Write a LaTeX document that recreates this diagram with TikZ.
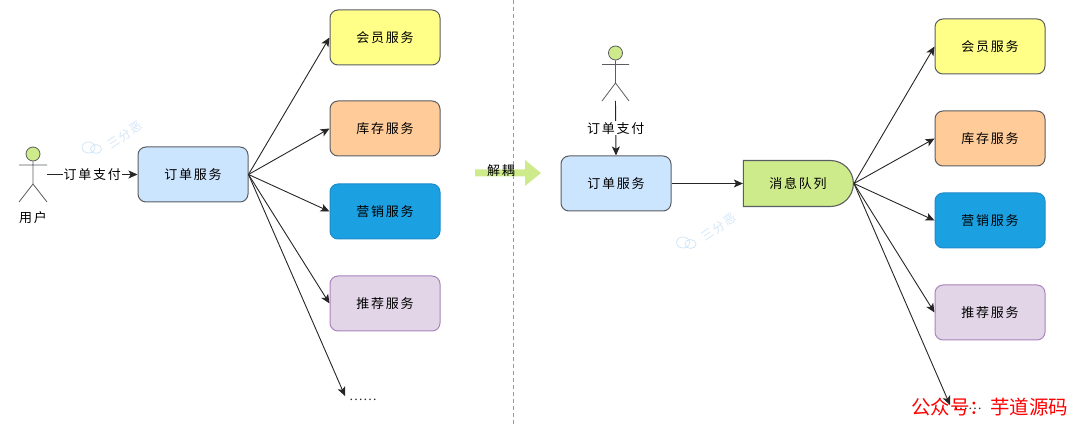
\documentclass[tikz,border=0pt]{standalone}
\usepackage{fontspec}
\setmainfont{Noto Sans CJK SC}
\newfontfamily\cnfont[LetterSpace=13]{Noto Sans CJK SC}
\newfontfamily\dotfont{Liberation Serif}
\usetikzlibrary{arrows.meta,shapes.misc,calc}
\definecolor{strokeD}{HTML}{5A5D61}
\definecolor{arrowG}{HTML}{CDEB8B}
\definecolor{wm}{HTML}{D3E6F7}
\definecolor{cYel}{HTML}{FFFF88}
\definecolor{cOran}{HTML}{FFCC99}
\definecolor{cTeal}{HTML}{1BA1E2}
\definecolor{cTealD}{HTML}{1E8ACB}
\definecolor{cPurp}{HTML}{E1D5E7}
\definecolor{cPurpD}{HTML}{A985BC}
\definecolor{cBlue}{HTML}{CCE5FF}
\tikzset{
  svc/.style={draw=strokeD,line width=1pt,rounded corners=8pt,minimum width=110pt,minimum height=55pt,inner sep=0pt,font=\cnfont\fontsize{13pt}{14pt}\selectfont,text=black},
  yel/.style={svc,fill=cYel},
  oran/.style={svc,fill=cOran},
  tealb/.style={svc,fill=cTeal,draw=cTealD},
  purp/.style={svc,fill=cPurp,draw=cPurpD},
  order/.style={svc,fill=cBlue},
  queue/.style={rounded rectangle,rounded rectangle west arc=none,rounded rectangle arc length=180,draw=strokeD,line width=1.1pt,fill=arrowG,minimum width=110pt,minimum height=46pt,inner sep=0pt,font=\cnfont\fontsize{13pt}{14pt}\selectfont,text=black},
  lbl/.style={fill=white,inner sep=1pt,font=\cnfont\fontsize{13pt}{14pt}\selectfont,text=black},
  plain/.style={inner sep=0pt,font=\cnfont\fontsize{13pt}{14pt}\selectfont,text=black},
  conn/.style={draw=black!85,line width=0.9pt,-{Stealth[length=9pt,width=8pt,inset=2.2pt]}},
  limb/.style={draw=strokeD,line width=0.8pt},
  headc/.style={circle,draw=strokeD,fill=arrowG,line width=0.8pt,minimum size=14pt,inner sep=0pt},
  wmtext/.style={text=wm,font=\cnfont\fontsize{12pt}{12pt}\selectfont,inner sep=0pt},
  wmicon/.style={draw=wm,line width=0.8pt},
  moredots/.style={inner sep=0pt,font=\dotfont\fontsize{14pt}{14pt}\selectfont,text=black!85},
}
\begin{document}
\begin{tikzpicture}[x=1pt,y=-1pt]
\useasboundingbox (0,0) rectangle (1080,427);
% divider
\coordinate (divT) at (513,0);
\coordinate (divB) at (513,427);
\draw[draw=black!40,line width=0.7pt,dash pattern=on 4pt off 3pt] (divT) -- (divB);
% watermarks
\node[wmtext,rotate=35] (wmA) at (125,135) {三分恶};
\draw[wmicon] (88.5,147.5) ellipse (6.5pt and 5.5pt);
\draw[wmicon] (96,149) ellipse (5.5pt and 4.5pt);
\node[wmtext,rotate=35] (wmB) at (719,227) {三分恶};
\draw[wmicon] (683,242.5) ellipse (6.5pt and 5.5pt);
\draw[wmicon] (690.5,244) ellipse (5.5pt and 4.5pt);
% left side
\node[order] (orderL) at (193,174.5) {订单服务};
\node[yel] (vipL) at (385,37.5) {会员服务};
\node[oran] (stockL) at (385,128.5) {库存服务};
\node[tealb] (mktL) at (385,211.5) {营销服务};
\node[purp] (recL) at (385,303.5) {推荐服务};
\node[moredots] (moreL) at (363,400) {……};
\coordinate (moreLtip) at (345,396);
\node[headc] (headL) at (33,154) {};
\coordinate (hipL) at (33,184);
\coordinate (armLa) at (19,165);
\coordinate (armLb) at (47,165);
\coordinate (legLa) at (19,202);
\coordinate (legLb) at (47,202);
\draw[limb] (headL) -- (hipL) (armLa) -- (armLb) (legLa) -- (hipL) -- (legLb);
\node[plain] (userL) at (33,217.5) {用户};
\coordinate (actorL) at (47,174.5);
\draw[conn] (actorL) -- (orderL.west) node[lbl,midway] (payL) {订单支付};
\draw[conn] (orderL.east) -- (vipL.west);
\draw[conn] (orderL.east) -- (stockL.west);
\draw[conn] (orderL.east) -- (mktL.west);
\draw[conn] (orderL.east) -- (recL.west);
\draw[conn] (orderL.east) -- (moreLtip);
% decouple arrow
\fill[arrowG] (475,169.5) -- (525,169.5) -- (525,160) -- (541,173) -- (525,186) -- (525,176.5) -- (475,176.5) -- cycle;
\node[plain] (decouple) at (501,170.5) {解耦};
% right side
\node[order] (orderR) at (616,183.5) {订单服务};
\node[queue] (mq) at (798,183.5) {消息队列};
\node[yel] (vipR) at (990,46.5) {会员服务};
\node[oran] (stockR) at (990,138.5) {库存服务};
\node[tealb] (mktR) at (990,220.5) {营销服务};
\node[purp] (recR) at (990,312.5) {推荐服务};
\coordinate (moreRtip) at (950,405);
\node[moredots] (moreR) at (968,409) {……};
\node[headc] (headR) at (615.5,53) {};
\coordinate (hipR) at (615.5,83);
\coordinate (armRa) at (602,64.5);
\coordinate (armRb) at (629,64.5);
\coordinate (legRa) at (602,101);
\coordinate (legRb) at (629,101);
\draw[limb] (headR) -- (hipR) (armRa) -- (armRb) (legRa) -- (hipR) -- (legRb);
\coordinate (actorR) at (615.5,101);
\draw[conn] (actorR) -- (orderR.north) node[lbl,pos=0.5] (payR) {订单支付};
\draw[conn] (orderR.east) -- (mq.west);
\draw[conn] (mq.east) -- (vipR.west);
\draw[conn] (mq.east) -- (stockR.west);
\draw[conn] (mq.east) -- (mktR.west);
\draw[conn] (mq.east) -- (recR.west);
\draw[conn] (mq.east) -- (moreRtip);
\node[inner sep=0pt,font=\fontsize{19.5pt}{20pt}\selectfont,text=red,anchor=east] (gzh) at (1068.5,407) {公众号：\hspace{1pt}芋道源码};
\end{tikzpicture}
\end{document}
